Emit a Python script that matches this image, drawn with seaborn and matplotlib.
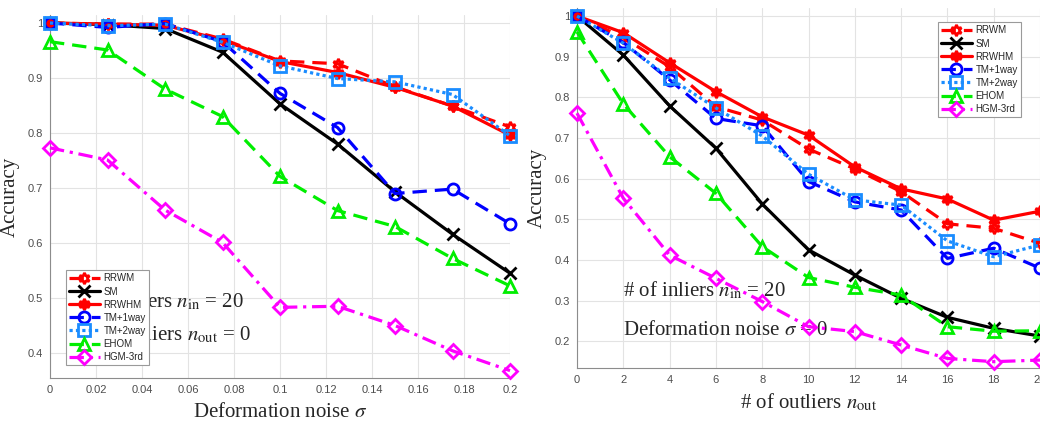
import numpy as np
import pandas as pd
import matplotlib
matplotlib.use("Agg")
import matplotlib.pyplot as plt
import seaborn as sns

# ---------------- data ----------------
methods = ["RRWM", "SM", "RRWHM", "TM+1way", "TM+2way", "EHOM", "HGM-3rd"]

sigma = [0, 0.025, 0.05, 0.075, 0.1, 0.125, 0.15, 0.175, 0.2]
left_rrwm = [1.0, 0.998, 0.998, 0.971, 0.931, 0.926, 0.884, 0.849, 0.811]
left_sm = [1.0, 0.997, 0.990, 0.947, 0.853, 0.780, 0.693, 0.616, 0.545]
left_rrwhm = [1.0, 0.998, 0.996, 0.969, 0.930, 0.910, 0.883, 0.849, 0.796]
left_tm1 = [1.0, 0.992, 0.999, 0.966, 0.872, 0.810, 0.690, 0.698, 0.635]
left_tm2 = [1.0, 0.995, 0.998, 0.965, 0.922, 0.899, 0.893, 0.870, 0.795]
left_ehom = [0.966, 0.951, 0.880, 0.830, 0.721, 0.659, 0.630, 0.572, 0.522]
left_hgm = [0.773, 0.751, 0.660, 0.601, 0.483, 0.485, 0.450, 0.404, 0.368]

n_out = [0, 2, 4, 6, 8, 10, 12, 14, 16, 18, 20]
right_rrwm = [1.0, 0.947, 0.875, 0.777, 0.744, 0.673, 0.624, 0.568, 0.489, 0.478, 0.441]
right_sm = [1.0, 0.904, 0.779, 0.675, 0.538, 0.425, 0.363, 0.306, 0.259, 0.232, 0.213]
right_rrwhm = [1.0, 0.959, 0.885, 0.814, 0.752, 0.707, 0.629, 0.575, 0.550, 0.498, 0.520]
right_tm1 = [1.0, 0.935, 0.843, 0.748, 0.730, 0.593, 0.543, 0.523, 0.404, 0.429, 0.380]
right_tm2 = [1.0, 0.933, 0.847, 0.774, 0.705, 0.611, 0.548, 0.535, 0.447, 0.408, 0.437]
right_ehom = [0.961, 0.784, 0.654, 0.564, 0.433, 0.357, 0.333, 0.314, 0.236, 0.225, 0.226]
right_hgm = [0.761, 0.552, 0.412, 0.355, 0.298, 0.236, 0.224, 0.191, 0.158, 0.150, 0.154]

left_ticks = [0, 0.02, 0.04, 0.06, 0.08, 0.1, 0.12, 0.14, 0.16, 0.18, 0.2]
left_ticklabels = ["0", "0.02", "0.04", "0.06", "0.08", "0.1", "0.12", "0.14", "0.16", "0.18", "0.2"]
left_yticks = [0.4, 0.5, 0.6, 0.7, 0.8, 0.9, 1.0]
left_yticklabels = ["0.4", "0.5", "0.6", "0.7", "0.8", "0.9", "1"]
right_yticks = [0.2, 0.3, 0.4, 0.5, 0.6, 0.7, 0.8, 0.9, 1.0]
right_yticklabels = ["0.2", "0.3", "0.4", "0.5", "0.6", "0.7", "0.8", "0.9", "1"]

# ---------------- style ----------------
sns.set_style("whitegrid")
plt.rcParams["font.family"] = ["Liberation Sans", "DejaVu Sans"]
plt.rcParams["mathtext.fontset"] = "stix"

hexagram = (6, 1, 0)
dash = (0, (4.5, 2.5))
styles = {
    "RRWM":    dict(color="#ff0000", ls=dash, marker=hexagram, mfc="none"),
    "SM":      dict(color="#000000", ls="-", marker="x", mfc="none"),
    "RRWHM":   dict(color="#ff0000", ls="-", marker=hexagram, mfc="#ff0000"),
    "TM+1way": dict(color="#0000ff", ls=dash, marker="o", mfc="none"),
    "TM+2way": dict(color="#1a8cff", ls=(0, (1.0, 1.0)), marker="s", mfc="none"),
    "EHOM":    dict(color="#00ee00", ls=dash, marker="^", mfc="none"),
    "HGM-3rd": dict(color="#ff00ff", ls=(0, (4.5, 1.8, 1.0, 1.8)), marker="D", mfc="none"),
}

W, H = 1040, 421
fig = plt.figure(figsize=(W / 100, H / 100), dpi=100)


def px_axes(x0, x1, ytop, ybot):
    return fig.add_axes([x0 / W, (H - ybot) / H, (x1 - x0) / W, (ybot - ytop) / H])


axL = px_axes(50, 510, 15, 378)
axR = px_axes(577, 1040, 8, 368)

left_data = [left_rrwm, left_sm, left_rrwhm, left_tm1, left_tm2, left_ehom, left_hgm]
right_data = [right_rrwm, right_sm, right_rrwhm, right_tm1, right_tm2, right_ehom, right_hgm]


def draw(ax, xs, series):
    for name, ys in zip(methods, series):
        st = styles[name]
        ms = 8 if st["marker"] != "D" else 7
        sns.lineplot(x=xs, y=ys, ax=ax, color=st["color"], linestyle=st["ls"],
                     marker=st["marker"], markersize=ms, markerfacecolor=st["mfc"],
                     markeredgecolor=st["color"], markeredgewidth=2.0,
                     linewidth=2.3, label=name, clip_on=False, zorder=3)


draw(axL, sigma, left_data)
draw(axR, n_out, right_data)

serif = ["Liberation Serif", "DejaVu Serif"]
tick_color = "#4d4d4d"
for ax in (axL, axR):
    ax.set_facecolor("white")
    ax.grid(True, color="#e3e3e3", linewidth=0.8)
    for s in ("top", "right"):
        ax.spines[s].set_visible(False)
    for s in ("left", "bottom"):
        ax.spines[s].set_color("#8c8c8c")
        ax.spines[s].set_linewidth(0.8)
    ax.tick_params(axis="both", direction="in", length=3, width=0.6, colors="#8c8c8c",
                   labelcolor=tick_color, labelsize=8, pad=5)
    ax.set_ylabel("Accuracy", fontsize=15, family=serif, labelpad=6)

axL.set_xlim(0, 0.2)
axL.set_ylim(1.0 - (378 - 23) / 550, 1.0 + 8 / 550)
axL.set_xticks(left_ticks)
axL.set_xticklabels(left_ticklabels)
axL.set_yticks(left_yticks)
axL.set_yticklabels(left_yticklabels)
axL.set_xlabel("Deformation noise $\\sigma$", fontsize=15, family=serif, labelpad=6)

axR.set_xlim(0, 20)
axR.set_ylim(1.0 - (368 - 16) / 406.7, 1.0 + 8 / 406.7)
axR.set_xticks(n_out)
axR.set_xticklabels([str(v) for v in n_out])
axR.set_yticks(right_yticks)
axR.set_yticklabels(right_yticklabels)
axR.set_xlabel("# of outliers $n_{\\rm out}$", fontsize=15, family=serif, labelpad=5)

# annotation texts
axL.text(0.0135, 0.4836, "# of inliers $n_{\\rm in}$ = 20", fontsize=15, family=serif,
         va="baseline", ha="left", zorder=2)
axL.text(0.0135, 0.4236, "# of outliers $n_{\\rm out}$ = 0", fontsize=15, family=serif,
         va="baseline", ha="left", zorder=2)
axR.text(2, 0.3115, "# of inliers $n_{\\rm in}$ = 20", fontsize=15, family=serif,
         va="baseline", ha="left", zorder=2)
axR.text(2, 0.2156, "Deformation noise $\\sigma$ = 0", fontsize=15, family=serif,
         va="baseline", ha="left", zorder=2)

leg_kw = dict(fontsize=7, frameon=True, fancybox=False, framealpha=1, edgecolor="#9a9a9a",
              handlelength=3.1, handletextpad=0.4, labelspacing=0.32, borderpad=0.35,
              borderaxespad=0, numpoints=1, loc="upper left")
legL = axL.legend(bbox_to_anchor=((66 - 50) / 460, (378 - 270) / 363), **leg_kw)
legR = axR.legend(bbox_to_anchor=((938 - 577) / 463, (368 - 22) / 360), **leg_kw)
for leg in (legL, legR):
    leg.get_frame().set_linewidth(0.8)
    leg.set_zorder(10)

fig.savefig("out.png", dpi=100)
